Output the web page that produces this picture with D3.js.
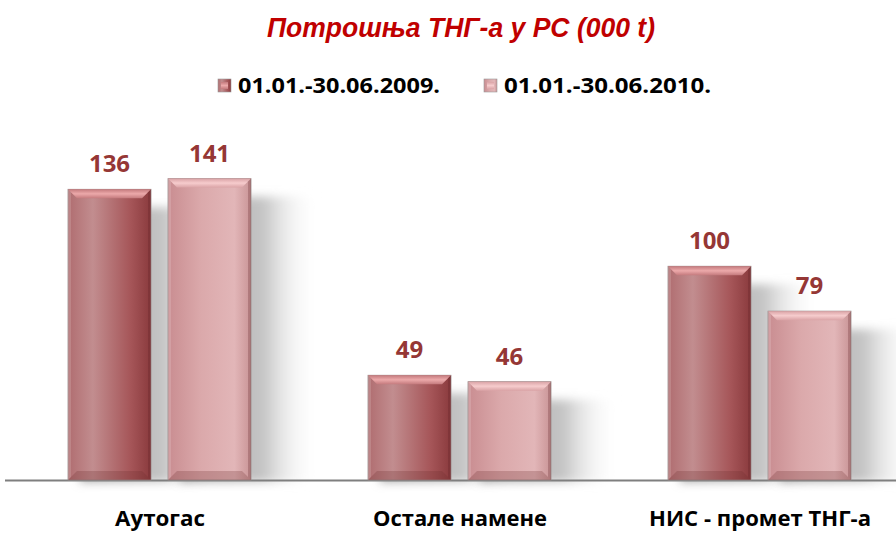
<html>
<head>
<meta charset="utf-8">
<script src="https://cdnjs.cloudflare.com/ajax/libs/d3/7.8.5/d3.min.js"></script>
<style>
  body { margin: 0; background: #fff; }
  .title { font-family: "Liberation Sans", Arial, sans-serif; font-weight: bold; font-style: italic; font-size: 27px; fill: #c00000; }
  .legend text { font-family: "Open Sans", sans-serif; font-weight: bold; font-size: 22px; fill: #000; }
  .value { font-family: "Open Sans", sans-serif; font-weight: bold; font-size: 24px; fill: #953735; }
  .cat { font-family: "Open Sans", sans-serif; font-weight: bold; font-size: 21px; fill: #000; }
</style>
</head>
<body>
<svg width="896" height="534"></svg>
<script>
var categories = ["Аутогас", "Остале намене", "НИС - промет ТНГ-а"];
var series = ["01.01.-30.06.2009.", "01.01.-30.06.2010."];
var values2009 = [136, 49, 100];
var values2010 = [141, 46, 79];
var titleText = "Потрошња ТНГ-а у РС (000 t)";

var svg = d3.select("svg");
var baseY = 480;

var x0 = d3.scaleBand().domain(categories).range([10, 910]);
var x1 = d3.scaleBand().domain(series).range([58, 241]).paddingInner(0.17);
var y = d3.scaleLinear().domain([0, 160]).range([baseY, baseY - 342]);

var defs = svg.append("defs");
var fills = [
  {id: "g0", stops: [["0%", "#b06d70"], ["30%", "#c28d8f"], ["75%", "#a65659"], ["100%", "#8a3a3d"]]},
  {id: "g1", stops: [["0%", "#c98d91"], ["40%", "#dba9ab"], ["80%", "#e2b6b8"], ["100%", "#c99496"]]}
];
fills.forEach(function(f) {
  var g = defs.append("linearGradient").attr("id", f.id).attr("x1", 0).attr("x2", 1).attr("y1", 0).attr("y2", 0);
  f.stops.forEach(function(s) { g.append("stop").attr("offset", s[0]).attr("stop-color", s[1]); });
});
var tops = [["t0", "#eca9aa", "#c47a7d"], ["t1", "#f6cccd", "#daa3a6"]];
tops.forEach(function(t) {
  var g = defs.append("linearGradient").attr("id", t[0]).attr("x1", 0).attr("x2", 0).attr("y1", 0).attr("y2", 1);
  g.append("stop").attr("offset", "0%").attr("stop-color", t[2]);
  g.append("stop").attr("offset", "50%").attr("stop-color", t[1]);
  g.append("stop").attr("offset", "100%").attr("stop-color", t[2]);
});
var sh = defs.append("linearGradient").attr("id", "sh").attr("x1", 0).attr("x2", 1).attr("y1", 0).attr("y2", 0);
sh.append("stop").attr("offset", "0%").attr("stop-color", "#a8a8a8");
sh.append("stop").attr("offset", "60%").attr("stop-color", "#c4c4c4");
sh.append("stop").attr("offset", "100%").attr("stop-color", "#ffffff").attr("stop-opacity", 0);
defs.append("filter").attr("id", "blur").attr("x", "-30%").attr("y", "-30%").attr("width", "160%").attr("height", "160%")
  .append("feGaussianBlur").attr("stdDeviation", 5);

// title
svg.append("text").attr("class", "title").attr("x", 461).attr("y", 37)
  .attr("text-anchor", "middle").attr("textLength", 388).attr("lengthAdjust", "spacingAndGlyphs")
  .text(titleText);

// legend
var legend = svg.append("g").attr("class", "legend");
var legX = [218, 484];
var legW = [202, 207];
series.forEach(function(s, i) {
  var g = legend.append("g").attr("transform", "translate(" + legX[i] + ",79)");
  g.append("rect").attr("width", 13).attr("height", 13).attr("fill", "url(#g" + i + ")").attr("stroke", "#999").attr("stroke-width", 0.6);
  g.append("rect").attr("x", 3).attr("y", 3).attr("width", 7).attr("height", 7).attr("fill", "url(#t" + i + ")");
  g.append("text").attr("x", 20).attr("y", 14).attr("textLength", legW[i]).attr("lengthAdjust", "spacingAndGlyphs").text(s);
});

var data = [];
categories.forEach(function(c, ci) {
  data.push({cat: c, s: series[0], si: 0, v: values2009[ci]});
  data.push({cat: c, s: series[1], si: 1, v: values2010[ci]});
});

// shadows
svg.append("g").selectAll("rect").data(data).enter().append("rect")
  .attr("x", d => x0(d.cat) + x1(d.s) + 12)
  .attr("y", d => y(d.v) + 18)
  .attr("width", x1.bandwidth() + 55)
  .attr("height", d => baseY - y(d.v) - 16)
  .attr("fill", "url(#sh)")
  .attr("filter", "url(#blur)");

// axis line
svg.append("line").attr("x1", 5).attr("x2", 896).attr("y1", baseY + 0.5).attr("y2", baseY + 0.5)
  .attr("stroke", "#7f7f7f").attr("stroke-width", 2);

// bars
var bev = 9;
var bars = svg.append("g").selectAll("g").data(data).enter().append("g");
bars.append("rect")
  .attr("x", d => x0(d.cat) + x1(d.s))
  .attr("y", d => y(d.v))
  .attr("width", x1.bandwidth())
  .attr("height", d => baseY - y(d.v))
  .attr("fill", d => "url(#g" + d.si + ")")
  .attr("stroke", "#9a8a8a").attr("stroke-width", 0.8);
// top bevel
bars.append("polygon")
  .attr("points", function(d) {
    var l = x0(d.cat) + x1(d.s), r = l + x1.bandwidth(), t = y(d.v);
    return [[l, t], [r, t], [r - bev, t + bev], [l + bev, t + bev]].join(" ");
  })
  .attr("fill", d => "url(#t" + d.si + ")");
// bottom bevel
bars.append("polygon")
  .attr("points", function(d) {
    var l = x0(d.cat) + x1(d.s), r = l + x1.bandwidth(), b = baseY;
    return [[l, b], [r, b], [r - bev, b - bev], [l + bev, b - bev]].join(" ");
  })
  .attr("fill", "#6b2a2c").attr("opacity", 0.25);
// side bevels
bars.append("polygon")
  .attr("points", function(d) {
    var l = x0(d.cat) + x1(d.s), t = y(d.v);
    return [[l, t], [l + 3, t + 3], [l + 3, baseY - 3], [l, baseY]].join(" ");
  })
  .attr("fill", "#ffffff").attr("opacity", 0.15);
bars.append("polygon")
  .attr("points", function(d) {
    var r = x0(d.cat) + x1(d.s) + x1.bandwidth(), t = y(d.v);
    return [[r, t], [r - 3, t + 3], [r - 3, baseY - 3], [r, baseY]].join(" ");
  })
  .attr("fill", "#5a2022").attr("opacity", 0.25);

// value labels
svg.append("g").selectAll("text").data(data).enter().append("text")
  .attr("class", "value")
  .attr("x", d => x0(d.cat) + x1(d.s) + x1.bandwidth() / 2)
  .attr("y", d => y(d.v) - 17)
  .attr("text-anchor", "middle")
  .text(d => d.v);

// category labels
var catW = [90, 174, 222];
svg.append("g").selectAll("text").data(categories).enter().append("text")
  .attr("class", "cat")
  .attr("x", d => x0(d) + x0.bandwidth() / 2)
  .attr("y", 526)
  .attr("text-anchor", "middle")
  .attr("textLength", (d, i) => catW[i]).attr("lengthAdjust", "spacingAndGlyphs")
  .text(d => d);
</script>
</body>
</html>
